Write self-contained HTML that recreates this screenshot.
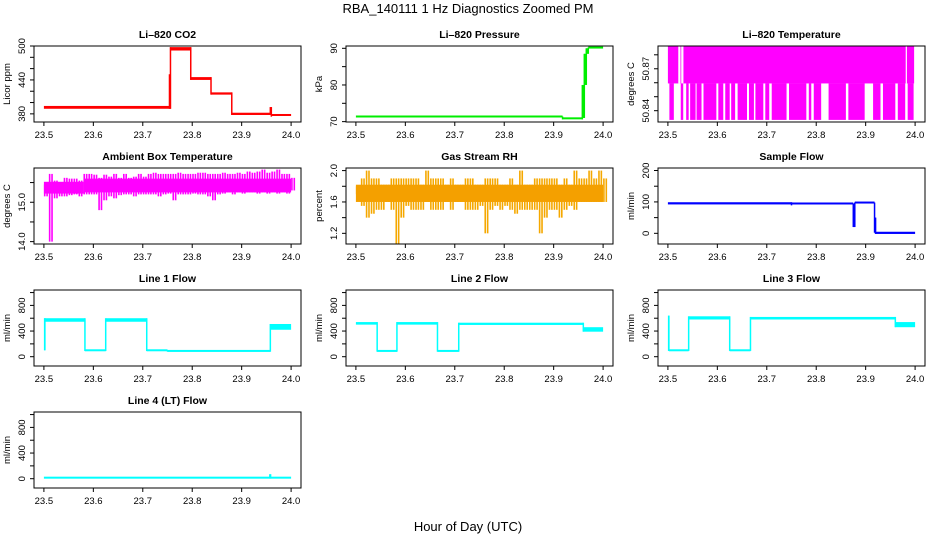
<!DOCTYPE html>
<html><head><meta charset="utf-8">
<style>
html,body{margin:0;padding:0;background:#fff;}
svg{display:block;font-family:"Liberation Sans",Arial,sans-serif;}
</style></head>
<body>
<svg id="chart" width="936" height="540" viewBox="0 0 936 540" xmlns="http://www.w3.org/2000/svg">
<rect width="936" height="540" fill="#fff"/>
<text x="468" y="13" text-anchor="middle" font-size="13">RBA_140111  1 Hz Diagnostics Zoomed PM</text>
<text x="468" y="531" text-anchor="middle" font-size="13">Hour of Day (UTC)</text>
</svg>
<script>
// ---- data ----
const xTicks = [23.5, 23.6, 23.7, 23.8, 23.9, 24.0];
const xTickLabels = ["23.5", "23.6", "23.7", "23.8", "23.9", "24.0"];

// step segments: [start, end, low, high]
const co2Segs = [[23.5,23.755,389,394],[23.754,23.756,389,450],[23.756,23.797,492,498],[23.797,23.838,440,445],[23.838,23.88,414,418],[23.88,23.958,378,382],[23.958,23.96,378,392],[23.96,24.0,375,378]];
const pressSegs = [[23.5,23.918,71.0,71.4],[23.918,23.958,70.6,70.9],[23.958,23.962,71,80],[23.962,23.966,80,88.5],[23.966,23.97,88.5,90],[23.97,24.0,89.9,90.2]];
const sampleSegs = [[23.5,23.75,92,99],[23.75,23.875,89,95],[23.875,23.878,20,95],[23.878,23.918,92,98],[23.918,23.92,2,50],[23.92,24.0,-2,5]];
const line1Segs = [[23.5,23.502,100,600],[23.502,23.583,545,600],[23.583,23.625,88,100],[23.625,23.708,545,600],[23.708,23.75,88,100],[23.75,23.958,78,90],[23.958,24.0,420,510]];
const line2Segs = [[23.5,23.543,500,540],[23.543,23.583,78,90],[23.583,23.665,500,540],[23.665,23.708,78,90],[23.708,23.96,495,530],[23.96,24.0,390,460]];
const line3Segs = [[23.5,23.502,90,640],[23.502,23.542,90,100],[23.542,23.625,580,630],[23.625,23.667,90,100],[23.667,23.96,580,620],[23.96,24.0,460,540]];
const line4Segs = [[23.5,24.0,2,16],[23.957,23.96,2,70]];

// Li-820 temperature: levels and low-dip intervals
const tempTop = 50.886, tempMid = 50.8595, tempLow = 50.8334;
const tempBandGaps = [23.521, 23.523, 23.527, 23.529, 23.981];
const tempLowIntervals = [[23.503,23.512],[23.526,23.531],[23.537,23.542],[23.545,23.556],[23.558,23.568],[23.572,23.598],[23.602,23.612],[23.616,23.625],[23.628,23.636],[23.641,23.660],[23.664,23.674],[23.677,23.693],[23.697,23.705],[23.71,23.74],[23.745,23.78],[23.785,23.79],[23.795,23.81],[23.825,23.86],[23.865,23.898],[23.915,23.93],[23.935,23.96],[23.965,23.98],[23.985,23.997]];

// banded noisy series sampled every 0.01 h from 23.50 to 24.00
const bandTimes = [23.50,23.51,23.52,23.53,23.54,23.55,23.56,23.57,23.58,23.59,23.60,23.61,23.62,23.63,23.64,23.65,23.66,23.67,23.68,23.69,23.70,23.71,23.72,23.73,23.74,23.75,23.76,23.77,23.78,23.79,23.80,23.81,23.82,23.83,23.84,23.85,23.86,23.87,23.88,23.89,23.90,23.91,23.92,23.93,23.94,23.95,23.96,23.97,23.98,23.99,24.00];
const ambHi = [15.45,15.72,15.55,15.5,15.62,15.6,15.6,15.55,15.72,15.72,15.7,15.62,15.7,15.65,15.72,15.62,15.72,15.62,15.65,15.72,15.65,15.72,15.75,15.72,15.72,15.72,15.72,15.75,15.72,15.72,15.72,15.75,15.75,15.72,15.72,15.72,15.75,15.72,15.72,15.75,15.72,15.78,15.75,15.78,15.83,15.75,15.78,15.83,15.72,15.72,15.62];
const ambLo = [15.15,14.0,15.1,15.15,15.15,15.18,15.2,15.15,15.2,15.2,15.2,14.8,15.05,15.15,15.1,15.18,15.2,15.2,15.15,15.2,15.2,15.2,15.2,15.15,15.2,15.22,15.05,15.2,15.2,15.2,15.22,15.2,15.2,15.15,15.05,15.2,15.22,15.25,15.2,15.25,15.22,15.25,15.25,15.22,15.25,15.22,15.25,15.22,15.25,15.22,15.3];
const ambCoreEarly = [15.22, 15.52], ambCoreLate = [15.25, 15.6], ambCoreSwitch = 23.58;
const rhHi = [1.8,1.9,2.0,1.9,1.9,1.82,1.82,1.9,1.9,1.9,1.9,1.9,1.9,1.82,2.0,1.9,1.9,1.9,1.82,1.9,1.82,1.82,1.9,1.9,1.82,1.82,1.9,1.9,1.9,1.82,1.82,1.9,1.82,2.0,1.82,1.82,1.9,1.9,1.9,1.9,1.9,1.82,1.9,1.82,2.0,1.9,1.9,2.0,1.9,2.0,1.9];
const rhLo = [1.7,1.55,1.4,1.45,1.5,1.5,1.6,1.5,1.07,1.4,1.55,1.5,1.5,1.5,1.6,1.5,1.5,1.5,1.6,1.5,1.6,1.6,1.5,1.5,1.5,1.55,1.2,1.5,1.55,1.5,1.55,1.5,1.45,1.5,1.5,1.5,1.5,1.2,1.4,1.5,1.5,1.4,1.5,1.55,1.5,1.6,1.6,1.6,1.6,1.6,1.6];
const rhCoreHi = 1.82, rhCoreLo = 1.6;

// ---- layout ----
const NS = "http://www.w3.org/2000/svg";
const svg = document.getElementById("chart");
const colLeft = [34, 346, 658];
const rowTop = [46, 168, 290, 412];
const boxW = 267, boxH = 76;

function mk(tag, attrs, parent) {
  const e = document.createElementNS(NS, tag);
  for (const k in attrs) e.setAttribute(k, attrs[k]);
  (parent || svg).appendChild(e);
  return e;
}

function panel(name, title, col, row, ylim, yTicks, yLabels, ylab) {
  const L = colLeft[col], T = rowTop[row];
  const g = mk("g", {});
  
  
  const xs = v => L + 9.9 + (v - 23.5) / 0.5 * (boxW - 19.8);
  const ys = v => T + boxH - (v - ylim[0]) / (ylim[1] - ylim[0]) * boxH;
  const t = mk("text", {x: L + boxW / 2, y: T - 8, "text-anchor": "middle", "font-size": 10.5, "font-weight": "bold"}, g);
  t.textContent = title;
  
  
  const plot = mk("g", {}, g);
  
  
  const box = mk("rect", {x: L, y: T, width: boxW, height: boxH, fill: "none", stroke: "#000", "stroke-width": 1}, g);
  
  
  const xa = mk("g", {}, g);
  
  
  mk("line", {x1: xs(xTicks[0]), x2: xs(xTicks[xTicks.length - 1]), y1: T + boxH, y2: T + boxH, stroke: "#000"}, xa);
  xTicks.forEach((v, i) => {
    mk("line", {x1: xs(v), x2: xs(v), y1: T + boxH, y2: T + boxH + 4, stroke: "#000"}, xa);
    const tl = mk("text", {x: xs(v), y: T + boxH + 16, "text-anchor": "middle", "font-size": 9.5}, xa);
    tl.textContent = xTickLabels[i];
  });
  const ya = mk("g", {}, g);
  
  
  mk("line", {x1: L, x2: L, y1: ys(yTicks[0]), y2: ys(yTicks[yTicks.length - 1]), stroke: "#000"}, ya);
  yTicks.forEach(v => {
    mk("line", {x1: L - 4, x2: L, y1: ys(v), y2: ys(v), stroke: "#000"}, ya);
  });
  yLabels.forEach(([v, s]) => {
    const tx = L - 9, ty = ys(v);
    const tl = mk("text", {x: tx, y: ty, "text-anchor": "middle", "font-size": 9.5, transform: `rotate(-90 ${tx} ${ty})`}, ya);
    tl.textContent = s;
  });
  const lx = L - 24, ly = T + boxH / 2;
  const yl = mk("text", {x: lx, y: ly, "text-anchor": "middle", "font-size": 9.5, transform: `rotate(-90 ${lx} ${ly})`}, g);
  yl.textContent = ylab;
  
  
  return {xs, ys, plot};
}

function drawSegs(p, segs, color) {
  let prev = null;
  segs.forEach(s => {
    const x1 = p.xs(s[0]), x2 = p.xs(s[1]);
    const yHi = p.ys(s[3]), yLo = p.ys(s[2]);
    const h = Math.max(2, yLo - yHi);
    const r = mk("rect", {x: x1, y: yHi - (h > yLo - yHi ? 1 : 0), width: Math.max(1.5, x2 - x1), height: h, fill: color}, p.plot);
    
    
    if (prev) {
      const a = Math.min(prev.yHi, yHi), b = Math.max(prev.yLo, yLo);
      mk("rect", {x: x1 - 0.75, y: a, width: 1.5, height: Math.max(1, b - a), fill: color}, p.plot);
    }
    prev = {yHi, yLo};
  });
}

// noise spikes: thin bars from low to high at each sample
function drawSpikes(p, times, lo, hi, color) {
  times.forEach((t, i) => {
    const x = p.xs(t);
    for (const dx of [0, 2.4]) {
      const r = mk("rect", {x: x + dx, y: p.ys(hi[i]), width: 1.6, height: p.ys(lo[i]) - p.ys(hi[i]), fill: color}, p.plot);
      
      
    }
  });
}

// Li-820 CO2
const pCO2 = panel("li820-co2", "Li\u2013820 CO2", 0, 0, [365.6, 500], [380,400,420,440,460,480,500], [[380,"380"],[440,"440"],[500,"500"]], "Licor ppm");
drawSegs(pCO2, co2Segs, "#ff0000");

// Pressure
const pP = panel("li820-pressure", "Li\u2013820 Pressure", 1, 0, [69.9, 90.63], [70,75,80,85,90], [[70,"70"],[80,"80"],[90,"90"]], "kPa");
drawSegs(pP, pressSegs, "#00ee00");

// Li-820 Temperature
const pT = panel("li820-temperature", "Li\u2013820 Temperature", 2, 0, [50.8319, 50.8863], [50.84,50.85,50.86,50.87,50.88], [[50.84,"50.84"],[50.87,"50.87"]], "degrees C");
{
  const band = mk("rect", {x: pT.xs(23.5), y: pT.ys(tempTop), width: pT.xs(23.998) - pT.xs(23.5), height: pT.ys(tempMid) - pT.ys(tempTop), fill: "#ff00ff"}, pT.plot);
  
  
  tempBandGaps.forEach(t => {
    mk("rect", {x: pT.xs(t), y: pT.ys(tempTop), width: 1.2, height: pT.ys(tempMid) - pT.ys(tempTop), fill: "#fff"}, pT.plot);
  });
  tempLowIntervals.forEach(iv => {
    const r = mk("rect", {x: pT.xs(iv[0]), y: pT.ys(tempMid), width: pT.xs(iv[1]) - pT.xs(iv[0]), height: pT.ys(tempLow) - pT.ys(tempMid), fill: "#ff00ff"}, pT.plot);
    
    
  });
}

// Ambient Box Temperature
const pA = panel("ambient-box-temperature", "Ambient Box Temperature", 0, 1, [13.94, 15.87], [14.0,14.5,15.0,15.5], [[14.0,"14.0"],[15.0,"15.0"]], "degrees C");
drawSpikes(pA, bandTimes, ambLo, ambHi, "#ff00ff");
{
  const a = mk("rect", {x: pA.xs(23.5), y: pA.ys(ambCoreEarly[1]), width: pA.xs(ambCoreSwitch) - pA.xs(23.5), height: pA.ys(ambCoreEarly[0]) - pA.ys(ambCoreEarly[1]), fill: "#ff00ff"}, pA.plot);
  
  
  const b = mk("rect", {x: pA.xs(ambCoreSwitch), y: pA.ys(ambCoreLate[1]), width: pA.xs(24.0) - pA.xs(ambCoreSwitch), height: pA.ys(ambCoreLate[0]) - pA.ys(ambCoreLate[1]), fill: "#ff00ff"}, pA.plot);
  
  
}

// Gas Stream RH
const pR = panel("gas-stream-rh", "Gas Stream RH", 1, 1, [1.064, 2.033], [1.2,1.4,1.6,1.8,2.0], [[1.2,"1.2"],[1.6,"1.6"],[2.0,"2.0"]], "percent");
drawSpikes(pR, bandTimes, rhLo, rhHi, "#f5a800");
{
  const r = mk("rect", {x: pR.xs(23.5), y: pR.ys(rhCoreHi), width: pR.xs(24.0) - pR.xs(23.5), height: pR.ys(rhCoreLo) - pR.ys(rhCoreHi), fill: "#f4a000"}, pR.plot);
  
  
}

// Sample Flow
const pS = panel("sample-flow", "Sample Flow", 2, 1, [-34, 208], [0,50,100,150,200], [[0,"0"],[100,"100"],[200,"200"]], "ml/min");
drawSegs(pS, sampleSegs, "#0000ff");

// Line flows
const flowLim = [-145, 1040], flowTicks = [0,200,400,600,800,1000], flowLabels = [[0,"0"],[400,"400"],[800,"800"]];
drawSegs(panel("line-1-flow", "Line 1 Flow", 0, 2, flowLim, flowTicks, flowLabels, "ml/min"), line1Segs, "#00ffff");
drawSegs(panel("line-2-flow", "Line 2 Flow", 1, 2, flowLim, flowTicks, flowLabels, "ml/min"), line2Segs, "#00ffff");
drawSegs(panel("line-3-flow", "Line 3 Flow", 2, 2, flowLim, flowTicks, flowLabels, "ml/min"), line3Segs, "#00ffff");
drawSegs(panel("line-4-flow", "Line 4 (LT) Flow", 0, 3, flowLim, flowTicks, flowLabels, "ml/min"), line4Segs, "#00ffff");
</script>
</body></html>
